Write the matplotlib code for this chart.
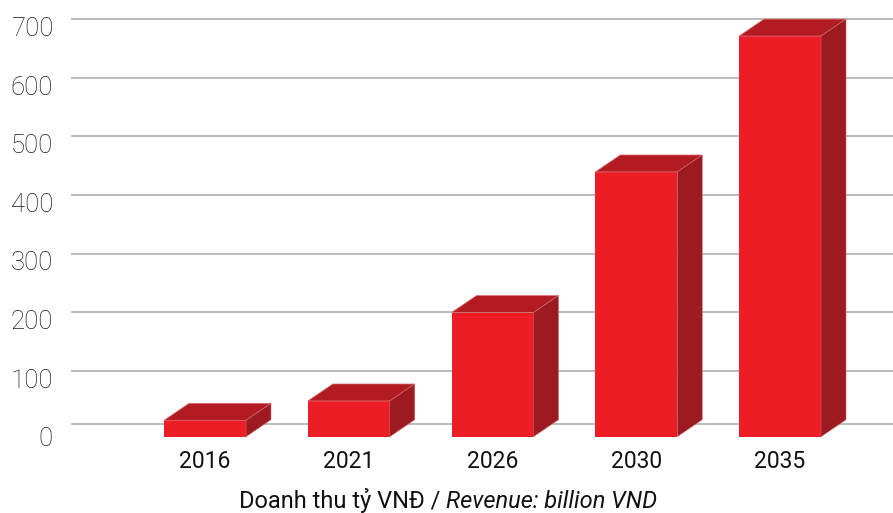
import matplotlib
matplotlib.use("Agg")
import matplotlib.pyplot as plt
from matplotlib.patches import Polygon

# ---- data ----
years = ["2016", "2021", "2026", "2030", "2035"]
revenue = [28, 61, 212, 452, 684]
yticks = [0, 100, 200, 300, 400, 500, 600, 700]
caption_vi = "Doanh thu tỷ VNĐ / "
caption_en = "Revenue: billion VND"

# ---- style ----
W, H = 893, 513
DPI = 100
FRONT = "#ED1D25"
TOP = "#B31B22"
SIDE = "#9D1B20"
GRID = "#A8A8A8"

fig = plt.figure(figsize=(W / DPI, H / DPI), dpi=DPI)
ax_left, ax_right = 71, 893          # pixels
ax_top, ax_bottom = 0, 436.7         # pixels from top
ax = fig.add_axes([ax_left / W, 1 - ax_bottom / H,
                   (ax_right - ax_left) / W, (ax_bottom - ax_top) / H])

px_per_cat = 143.75
px_per_unit = 0.5857
x0_px = 205 - ax_left
ax.set_xlim(-x0_px / px_per_cat, (ax_right - ax_left - x0_px) / px_per_cat)
ax.set_ylim(0, (ax_bottom - ax_top) / px_per_unit)

bar_w = 82 / px_per_cat
dx = 25 / px_per_cat
dy = 17 / px_per_unit
grid_off = 12.6
zero_grid = 21.2

# gridlines on back wall
for t in yticks:
    yy = zero_grid if t == 0 else t + grid_off
    ax.axhline(yy, color=GRID, lw=1.1, zorder=0)

xs = list(range(len(years)))
ax.bar(xs, revenue, width=bar_w, color=FRONT, edgecolor="none", zorder=3)
for x, v in zip(xs, revenue):
    xl, xr = x - bar_w / 2, x + bar_w / 2
    ax.add_patch(Polygon([(xl, v), (xr, v), (xr + dx, v + dy), (xl + dx, v + dy)],
                         closed=True, facecolor=TOP, edgecolor="#D9787C",
                         lw=0.5, zorder=3))
    ax.add_patch(Polygon([(xr, 0), (xr, v), (xr + dx, v + dy), (xr + dx, dy)],
                         closed=True, facecolor=SIDE, edgecolor="#C86A6E",
                         lw=0.4, zorder=3))

ax.set_xticks(xs)
ax.set_xticklabels(years, fontfamily="Roboto", fontsize=16.5, color="#111111")
ax.set_yticks(yticks)
ax.set_yticklabels([str(t) for t in yticks], fontfamily="Roboto",
                   fontweight="light", fontsize=18.5, color="#1a1a1a")
ax.tick_params(axis="x", length=0, pad=9.5)
ax.tick_params(axis="y", length=0, pad=13)
for s in ax.spines.values():
    s.set_visible(False)
ax.set_facecolor("none")

t1 = fig.text(0.5, 0.0, caption_vi, fontfamily="Roboto", fontsize=17,
              color="#111111", ha="left", va="baseline")
fig.canvas.draw()
r = fig.canvas.get_renderer()
t2 = fig.text(0, 0, caption_en, fontfamily="Roboto", fontstyle="italic",
              fontsize=17, color="#111111", ha="left", va="baseline")
w1 = t1.get_window_extent(r).width
w2 = t2.get_window_extent(r).width
total = w1 + w2
cx = 448
start = cx - total / 2
base = H - 508
t1.set_position((start / W, base / H))
t2.set_position(((start + w1) / W, base / H))

fig.savefig("out.png", dpi=DPI)
